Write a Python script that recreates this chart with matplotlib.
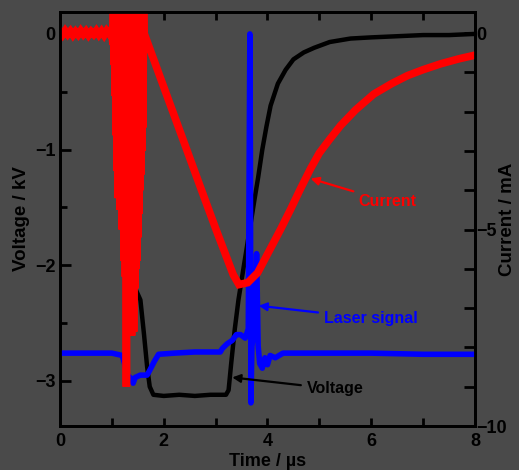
import matplotlib
matplotlib.use("Agg")
import matplotlib.pyplot as plt
from matplotlib.ticker import MultipleLocator

plt.rcParams["font.family"] = ["Liberation Sans", "DejaVu Sans"]
plt.rcParams["font.weight"] = "bold"

BG = "#4a4a4a"

# discharge voltage (kV) vs time (us)
volt_t = [0.0, 0.3, 0.6, 0.9, 1.2, 1.26, 1.29, 1.32, 1.36, 1.45, 1.55, 1.62, 1.68, 1.73, 1.8, 2.0,
          2.3, 2.6, 2.9, 3.2, 3.25, 3.3, 3.37, 3.44, 3.55, 3.65, 3.75, 3.82, 3.9, 3.98, 4.06, 4.2,
          4.35, 4.5, 4.7, 4.9, 5.2, 5.6, 6.0, 6.5, 7.0, 7.5, 8.0]
volt_v = [0.0, -0.01, 0.0, -0.01, -0.02, -0.3, -1.2, -1.9, -2.1, -2.2, -2.3, -2.6, -2.88, -3.05, -3.12, -3.13,
          -3.12, -3.13, -3.12, -3.12, -3.08, -2.85, -2.55, -2.3, -1.99, -1.71, -1.43, -1.24, -1.0, -0.8, -0.62, -0.43,
          -0.31, -0.22, -0.16, -0.12, -0.07, -0.04, -0.03, -0.02, -0.01, -0.01, 0.0]

# laser photodiode signal, plotted on the voltage scale
laser_t = [0.0, 0.5, 1.0, 1.2, 1.25, 1.29, 1.35, 1.41, 1.45, 1.55, 1.68, 1.74, 1.82, 1.9, 2.2, 2.6,
           3.0, 3.09, 3.13, 3.22, 3.32, 3.4, 3.48, 3.57, 3.63, 3.66, 3.67, 3.68, 3.7, 3.73, 3.76,
           3.79, 3.82, 3.85, 3.9, 3.95, 4.0, 4.05, 4.15, 4.3, 5.0, 6.0, 7.0, 8.0]
laser_v = [-2.76, -2.76, -2.76, -2.78, -2.86, -2.95, -2.97, -3.02, -2.97, -2.95, -2.95, -2.9, -2.83, -2.77, -2.76, -2.75,
           -2.75, -2.75, -2.72, -2.68, -2.65, -2.6, -2.6, -2.63, -2.55, 0.0, -1.0, -3.19, -2.7, -2.6, -2.4,
           -1.9, -2.7, -2.85, -2.89, -2.8, -2.86, -2.78, -2.8, -2.76, -2.76, -2.76, -2.77, -2.77]

# discharge current (mA): quiet baseline before breakdown
base_t = [0.0, 0.05, 0.1, 0.15, 0.2, 0.25, 0.3, 0.35, 0.4, 0.45, 0.5, 0.55, 0.6, 0.65, 0.7, 0.75,
          0.8, 0.85, 0.9, 0.95, 1.0]
base_i = [0.05, -0.04, 0.06, -0.03, 0.05, -0.05, 0.04, -0.04, 0.06, -0.03, 0.05, -0.05, 0.04, -0.03, 0.06, -0.04,
          0.05, -0.05, 0.06, -0.02, 0.1]
# ringing during breakdown: lowest point of each swing, the other half of each swing runs off the top
ring_t = [1.02, 1.04, 1.06, 1.08, 1.10, 1.12, 1.14, 1.16, 1.18, 1.20, 1.22, 1.24, 1.26, 1.28, 1.30, 1.32,
          1.34, 1.36, 1.38, 1.40, 1.42, 1.44, 1.46, 1.48, 1.50, 1.52, 1.54, 1.56, 1.58, 1.60]
ring_low = [-0.3, -0.8, -1.6, -2.6, -3.5, -4.2, -3.8, -4.5, -3.9, -5.0, -4.8, -5.8, -6.2, -9.0, -7.6, -6.8,
            -7.4, -6.9, -7.7, -7.0, -7.6, -6.5, -6.0, -5.8, -5.2, -4.6, -4.0, -3.6, -3.0, -2.4]
ring_high = 1.0
# decay and recovery after breakdown
tail_t = [1.62, 1.74, 2.0, 2.3, 2.71, 3.0, 3.34, 3.45, 3.62, 3.81, 4.05, 4.25, 4.44, 4.64, 4.83, 5.0,
          5.2, 5.41, 5.7, 6.05, 6.4, 6.7, 7.0, 7.34, 7.7, 8.0]
tail_i = [0.0, -0.43, -1.37, -2.45, -3.93, -4.97, -6.15, -6.4, -6.35, -6.1, -5.5, -5.0, -4.5, -3.95, -3.45, -3.05,
          -2.7, -2.35, -1.95, -1.55, -1.28, -1.08, -0.93, -0.78, -0.65, -0.56]

curr_t = list(base_t)
curr_i = list(base_i)
for t, low in zip(ring_t, ring_low):
    curr_t += [t, t + 0.01]
    curr_i += [low, ring_high]
curr_t += tail_t
curr_i += tail_i

fig = plt.figure(figsize=(5.19, 4.70), dpi=100, facecolor=BG)
ax = fig.add_axes([0.1156, 0.0936, 0.7996, 0.881])
ax.set_facecolor(BG)
ax2 = ax.twinx()

ax.plot(volt_t, volt_v, color="black", lw=3.2, zorder=2)
ax.plot(laser_t, laser_v, color="#0000ff", lw=4, zorder=3)
ax2.plot(curr_t, curr_i, color="#ff0000", lw=5.5, solid_joinstyle="miter")

ax.set_xlim(0, 8)
ax.set_ylim(-3.39, 0.19)
ax2.set_ylim(-10, 0.54)

ax.xaxis.set_major_locator(MultipleLocator(2))
ax.xaxis.set_minor_locator(MultipleLocator(1))
ax.yaxis.set_major_locator(MultipleLocator(1))
ax.yaxis.set_minor_locator(MultipleLocator(0.5))
ax2.yaxis.set_major_locator(MultipleLocator(5))
ax2.yaxis.set_minor_locator(MultipleLocator(1))

ax.tick_params(which="both", direction="in", width=2, top=True, right=False, labelsize=13)
ax.tick_params(axis="x", which="both", length=6, pad=5)
ax.tick_params(axis="y", which="major", length=8, pad=3)
ax.tick_params(axis="y", which="minor", length=5)
ax2.tick_params(which="both", direction="in", width=2, length=8, labelsize=13, pad=1)

for a in (ax, ax2):
    for s in a.spines.values():
        s.set_linewidth(2)
        s.set_color("black")

ax.set_xlabel("Time / \u00b5s", fontsize=13, fontweight="bold", labelpad=2)
ax.set_ylabel("Voltage / kV", fontsize=13.5, fontweight="bold", labelpad=4)
ax2.set_ylabel("Current / mA", fontsize=13.5, fontweight="bold")
ax2.yaxis.set_label_coords(1.058, 0.5)

arrow = dict(arrowstyle="-|>", lw=1.6, mutation_scale=12, shrinkA=2, shrinkB=0)
ax2.annotate("Current", xy=(4.83, -3.70), xytext=(5.76, -4.29), color="#ff0000",
             fontsize=11.5, fontweight="bold", ha="left", va="center",
             arrowprops=dict(arrow, color="#ff0000"))
ax.annotate("Laser signal", xy=(3.83, -2.35), xytext=(5.08, -2.46), color="#0000ff",
            fontsize=11.5, fontweight="bold", ha="left", va="center",
            arrowprops=dict(arrow, color="#0000ff"))
ax.annotate("Voltage", xy=(3.32, -2.97), xytext=(4.75, -3.07), color="black",
            fontsize=11.5, fontweight="bold", ha="left", va="center",
            arrowprops=dict(arrow, color="black"))

fig.savefig("out.png", dpi=100, facecolor=BG)
